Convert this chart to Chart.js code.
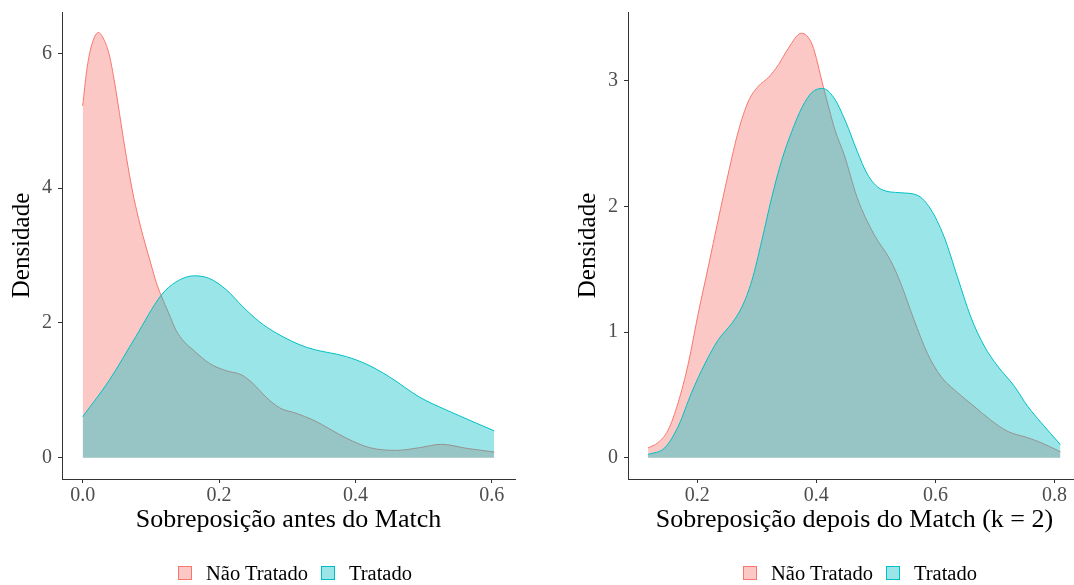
<!DOCTYPE html>
<html>
<head>
<meta charset="utf-8">
<script src="https://cdn.jsdelivr.net/npm/chart.js@4.4.1/dist/chart.umd.min.js"></script>
<style>
  html, body { margin: 0; padding: 0; background: #fff; overflow: hidden; }
  #wrap { position: relative; width: 1074px; height: 585px; overflow: hidden; }
  canvas { position: absolute; top: 0; }
  #c1 { left: 0; }
  #c2 { left: 566px; }
  .legend { position: absolute; top: 563px; display: flex; align-items: center;
            font-family: "Liberation Serif", "Times New Roman", serif; font-size: 20.5px;
            line-height: 20px; color: #000; white-space: nowrap; }
  .key { width: 14px; height: 14px; box-sizing: border-box; border: 1px solid; }
</style>
</head>
<body>
<div id="wrap">
  <canvas id="c1" width="537" height="585"></canvas>
  <canvas id="c2" width="537" height="585"></canvas>
  <div class="legend" id="leg1" style="left:178px"></div>
  <div class="legend" id="leg2" style="left:743px"></div>
</div>
<script>
// Series names and colours
const groups = ['Não Tratado', 'Tratado'];
const lineColors = ['#F8766D', '#00BFC4'];
const fillColors = ['rgba(248,118,109,0.4)', 'rgba(0,191,196,0.4)'];

// Before matching (density curves)
const beforeNaoX = [0, 0.006, 0.012, 0.023, 0.031, 0.039, 0.047, 0.056, 0.064, 0.073, 0.082, 0.091, 0.1, 0.108, 0.115, 0.126, 0.137, 0.149, 0.162, 0.186, 0.211, 0.233, 0.25, 0.269, 0.289, 0.313, 0.338, 0.387, 0.421, 0.46, 0.494, 0.526, 0.563, 0.6035];
const beforeNaoY = [5.22, 5.75, 6.08, 6.31, 6.21, 5.98, 5.56, 4.98, 4.47, 3.96, 3.55, 3.2, 2.88, 2.6, 2.41, 2.15, 1.89, 1.72, 1.60, 1.40, 1.29, 1.23, 1.10, 0.90, 0.74, 0.66, 0.56, 0.29, 0.15, 0.11, 0.15, 0.20, 0.14, 0.085];
const beforeTratX = [0, 0.039, 0.078, 0.115, 0.137, 0.164, 0.186, 0.211, 0.235, 0.259, 0.284, 0.328, 0.387, 0.416, 0.45, 0.494, 0.533, 0.6035];
const beforeTratY = [0.61, 1.15, 1.80, 2.41, 2.61, 2.70, 2.66, 2.49, 2.24, 2.02, 1.85, 1.64, 1.50, 1.39, 1.20, 0.90, 0.71, 0.40];

// After matching (k = 2)
const afterNaoX = [0.1174, 0.134, 0.151, 0.168, 0.185, 0.2017, 0.2185, 0.235, 0.252, 0.269, 0.286, 0.303, 0.320, 0.3365, 0.353, 0.3748, 0.393, 0.412, 0.432, 0.447, 0.4687, 0.4967, 0.5248, 0.5417, 0.564, 0.5867, 0.609, 0.637, 0.665, 0.693, 0.7215, 0.755, 0.7776, 0.810];
const afterNaoY = [0.079, 0.12, 0.22, 0.44, 0.75, 1.15, 1.52, 1.89, 2.26, 2.60, 2.84, 2.96, 3.03, 3.13, 3.26, 3.38, 3.29, 2.95, 2.60, 2.41, 2.07, 1.78, 1.57, 1.39, 1.10, 0.83, 0.65, 0.52, 0.41, 0.30, 0.21, 0.16, 0.12, 0.048];
const afterTratX = [0.1174, 0.1456, 0.168, 0.1906, 0.213, 0.2354, 0.258, 0.275, 0.2917, 0.3085, 0.325, 0.342, 0.359, 0.376, 0.3928, 0.4107, 0.429, 0.449, 0.4687, 0.4855, 0.508, 0.5417, 0.5698, 0.592, 0.6146, 0.637, 0.6596, 0.682, 0.7046, 0.7326, 0.755, 0.7776, 0.810];
const afterTratY = [0.026, 0.08, 0.25, 0.52, 0.75, 0.94, 1.07, 1.20, 1.41, 1.73, 2.07, 2.37, 2.60, 2.79, 2.91, 2.94, 2.87, 2.68, 2.44, 2.26, 2.14, 2.11, 2.09, 1.98, 1.76, 1.44, 1.12, 0.89, 0.73, 0.57, 0.41, 0.28, 0.105];

// Tick labels
const beforeXTicks = [0, 0.2, 0.4, 0.6];
const beforeYTicks = [0, 2, 4, 6];
const afterXTicks = [0.2, 0.4, 0.6, 0.8];
const afterYTicks = [0, 1, 2, 3];

Chart.defaults.font.family = '"Liberation Serif", "Times New Roman", serif';

function toPoints(xs, ys) {
    return xs.map((x, i) => ({ x: x, y: ys[i] }));
}

function makeDataset(i, xs, ys) {
    return {
        label: groups[i],
        data: toPoints(xs, ys),
        borderColor: lineColors[i],
        backgroundColor: fillColors[i],
        borderWidth: 1,
        fill: 'origin',
        pointRadius: 0,
        cubicInterpolationMode: 'monotone',
        order: 2 - i // red first, teal on top
    };
}

// no extra room for edge labels, so the plot area sits where the layout says
function noPadding(s) {
    s.paddingTop = 0; s.paddingBottom = 0; s.paddingLeft = 0; s.paddingRight = 0;
}

function axisCommon(ticksArr, fmt) {
    return {
        type: 'linear',
        afterBuildTicks: s => { s.ticks = ticksArr.map(v => ({ value: v })); },
        grid: { display: true, drawOnChartArea: false, drawTicks: true, tickLength: 4, color: '#333', lineWidth: 1 },
        border: { display: true, color: '#333', width: 1 },
        ticks: { color: '#4D4D4D', font: { size: 20 }, callback: fmt }
    };
}

function makeChart(id, datasets, xr, yr, xTicks, yTicks, xTitle) {
    const xAxis = axisCommon(xTicks, v => v.toFixed(1));
    xAxis.min = xr[0]; xAxis.max = xr[1];
    xAxis.ticks.padding = 1;
    xAxis.ticks.maxRotation = 0;
    xAxis.title = { display: true, text: xTitle, color: '#000', font: { size: 26 }, padding: { top: 0, bottom: 0 } };
    xAxis.afterFit = s => { s.height = 57; noPadding(s); };

    const yAxis = axisCommon(yTicks, v => String(v));
    yAxis.min = yr[0]; yAxis.max = yr[1];
    yAxis.ticks.padding = 6;
    yAxis.title = { display: true, text: 'Densidade', color: '#000', font: { size: 25 }, padding: { top: 7, bottom: 0 } };
    yAxis.afterFit = s => { s.width = 62; noPadding(s); };

    return new Chart(document.getElementById(id), {
        type: 'line',
        data: { datasets: datasets },
        options: {
            responsive: false,
            animation: false,
            devicePixelRatio: 1,
            layout: { padding: { top: 12, right: 22, bottom: 49, left: 0 } },
            plugins: { legend: { display: false }, tooltip: { enabled: false } },
            scales: { x: xAxis, y: yAxis }
        }
    });
}

makeChart('c1',
    [makeDataset(0, beforeNaoX, beforeNaoY), makeDataset(1, beforeTratX, beforeTratY)],
    [-0.0303, 0.634], [-0.315, 6.615], beforeXTicks, beforeYTicks,
    'Sobreposição antes do Match');

makeChart('c2',
    [makeDataset(0, afterNaoX, afterNaoY), makeDataset(1, afterTratX, afterTratY)],
    [0.0837, 0.8446], [-0.169, 3.549], afterXTicks, afterYTicks,
    'Sobreposição depois do Match (k = 2)');

// Legends under each panel
function buildLegend(id) {
    const el = document.getElementById(id);
    el.innerHTML = `
        <span class="key" style="background:${fillColors[0]};border-color:${lineColors[0]}"></span>
        <span style="margin-left:14px;margin-right:13px">${groups[0]}</span>
        <span class="key" style="background:${fillColors[1]};border-color:${lineColors[1]}"></span>
        <span style="margin-left:14px">${groups[1]}</span>`;
}
buildLegend('leg1');
buildLegend('leg2');
</script>
</body>
</html>
